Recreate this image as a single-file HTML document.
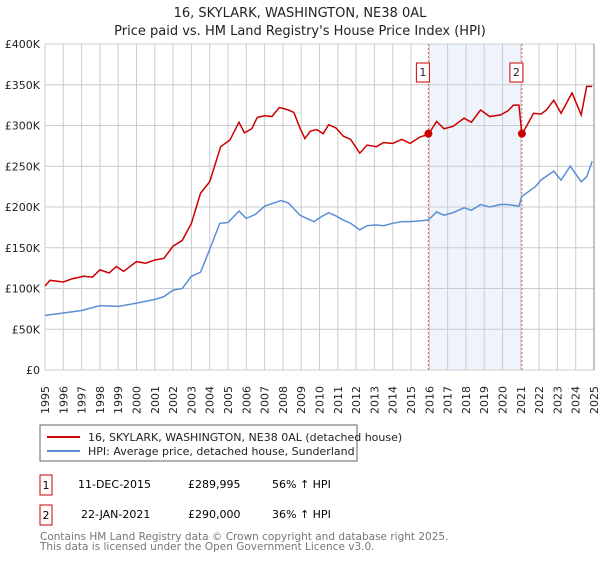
<!DOCTYPE html>
<html><head><meta charset="utf-8"><style>
body{margin:0;background:#fff;font-family:"Liberation Sans","DejaVu Sans",sans-serif;}
svg text{font-family:"DejaVu Sans","Liberation Sans",sans-serif;}
</style></head><body>
<svg id="c" width="600" height="560" xmlns="http://www.w3.org/2000/svg">
<text x="300" y="17" text-anchor="middle" font-size="13" fill="#222">16, SKYLARK, WASHINGTON, NE38 0AL</text>
<text x="300" y="35" text-anchor="middle" font-size="13" fill="#222">Price paid vs. HM Land Registry's House Price Index (HPI)</text>
<g id="plot"></g>
<rect x="40" y="425" width="317" height="36" fill="#fff" stroke="#666"/>
<line x1="47" y1="437" x2="80" y2="437" stroke="#cc0000" stroke-width="2"/>
<text x="88" y="441" font-size="11" fill="#222">16, SKYLARK, WASHINGTON, NE38 0AL (detached house)</text>
<line x1="47" y1="451" x2="80" y2="451" stroke="#5b8fd6" stroke-width="2"/>
<text x="88" y="455" font-size="11" fill="#222">HPI: Average price, detached house, Sunderland</text>
<rect x="40" y="475" width="12" height="20" fill="#fff" stroke="#cc0000"/>
<text x="46" y="489" font-size="11" text-anchor="middle">1</text>
<text x="78" y="488" font-size="11">11-DEC-2015</text>
<text x="188" y="488" font-size="11">£289,995</text>
<text x="272" y="488" font-size="11">56% ↑ HPI</text>
<rect x="40" y="505" width="12" height="20" fill="#fff" stroke="#cc0000"/>
<text x="46" y="519" font-size="11" text-anchor="middle">2</text>
<text x="81" y="518" font-size="11">22-JAN-2021</text>
<text x="188" y="518" font-size="11">£290,000</text>
<text x="272" y="518" font-size="11">36% ↑ HPI</text>
<text x="40" y="540" font-size="10.5" fill="#777">Contains HM Land Registry data © Crown copyright and database right 2025.</text>
<text x="40" y="550" font-size="10.5" fill="#777">This data is licensed under the Open Government Licence v3.0.</text>
</svg>
<script>
const yTicks=[0,50,100,150,200,250,300,350,400];
const yTickLabels=["£0","£50K","£100K","£150K","£200K","£250K","£300K","£350K","£400K"];
const xYears=[1995,1996,1997,1998,1999,2000,2001,2002,2003,2004,2005,2006,2007,2008,2009,2010,2011,2012,2013,2014,2015,2016,2017,2018,2019,2020,2021,2022,2023,2024,2025];
const redDates=[1995.0,1995.27,1996.0,1996.5,1997.1,1997.6,1998.0,1998.5,1998.9,1999.3,1999.7,2000.0,2000.5,2001.0,2001.5,2002.0,2002.5,2003.0,2003.5,2004.0,2004.6,2005.1,2005.6,2005.9,2006.3,2006.6,2007.0,2007.4,2007.8,2008.0,2008.3,2008.6,2008.93,2009.2,2009.5,2009.85,2010.2,2010.5,2010.9,2011.3,2011.7,2012.2,2012.6,2013.1,2013.5,2014.0,2014.5,2014.95,2015.5,2015.95,2016.4,2016.8,2017.3,2017.9,2018.3,2018.8,2019.3,2019.9,2020.3,2020.6,2020.9,2021.06,2021.7,2022.1,2022.4,2022.8,2023.2,2023.8,2024.3,2024.6,2024.9];
const redValues=[103,110,108,112,115,114,123,119,127,121,128,133,131,135,137,152,159,180,217,231,274,282,304,291,296,310,312,311,322,321,319,316,297,284,293,295,290,301,297,287,283,266,276,274,279,278,283,278,286,289,305,296,299,309,304,319,311,313,318,325,325,289,315,314,319,331,315,340,313,348,348];
const hpiDates=[1995.0,1996.0,1997.0,1998.0,1999.0,2000.0,2001.0,2001.5,2002.0,2002.5,2003.0,2003.5,2004.0,2004.55,2005.0,2005.6,2006.0,2006.5,2007.0,2007.9,2008.3,2008.93,2009.3,2009.7,2010.1,2010.5,2010.9,2011.3,2011.7,2012.2,2012.6,2013.1,2013.5,2014.0,2014.5,2014.95,2015.5,2015.95,2016.4,2016.8,2017.3,2017.9,2018.3,2018.8,2019.3,2019.9,2020.3,2020.9,2021.06,2021.8,2022.1,2022.8,2023.2,2023.7,2024.3,2024.6,2024.9];
const hpiValues=[67,70,73,79,78,82,86.5,90,98,100,115,120,148,180,181,195,186,191,201,208,205,190,186,182,188,193,189,184,180,172,177,178,177,180,182,182,183,184,194,190,193,199,196,203,200,203,203,201,213,225,233,244,233,250,231,237,256];
const sales=[2015.95,2021.06];
const saleValues=[289.995,290];

const NS='http://www.w3.org/2000/svg';
const L=45,R=594,T=44,B=370;
const X=y=>L+(y-1995)*(R-L)/30;
const Y=v=>B-v*(B-T)/400;
const g=document.getElementById('plot');
function mk(t,a){const e=document.createElementNS(NS,t);for(const k in a)e.setAttribute(k,a[k]);g.appendChild(e);return e;}
const shade=mk('rect',{x:X(sales[0]),y:T,width:X(sales[1])-X(sales[0]),height:B-T,fill:'#eef3fc'});


xYears.forEach(yr=>{
 const l=mk('line',{x1:X(yr),x2:X(yr),y1:T,y2:B,stroke:'#ccc','stroke-width':1});
 
 
 const t=mk('text',{x:0,y:0,'font-size':11,fill:'#222',transform:`translate(${X(yr)+4},${414}) rotate(-90)`});
 t.textContent=yr;
 
 
});
yTicks.forEach((v,i)=>{
 const l=mk('line',{x1:L,x2:R,y1:Y(v),y2:Y(v),stroke:'#ccc','stroke-width':1});
 
 
 const t=mk('text',{x:40,y:Y(v)+4,'font-size':11,'text-anchor':'end',fill:'#222'});
 t.textContent=yTickLabels[i];
 
 
});
sales.forEach((d,i)=>{
 const l=mk('line',{x1:X(d),x2:X(d),y1:T,y2:B,stroke:'#e06060','stroke-width':1,'stroke-dasharray':'2,2'});
 
 
 const bx=mk('rect',{x:X(d)-12,y:63,width:13,height:19,fill:'#fff',stroke:'#cc0000'});
 
 
 const t=mk('text',{x:X(d)-5.5,y:76,'font-size':11,'text-anchor':'middle',fill:'#222'});
 t.textContent=String(i+1);
 
 
});
const hp=mk('polyline',{points:hpiDates.map((d,i)=>X(d)+','+Y(hpiValues[i])).join(' '),fill:'none',stroke:'#5b8fd6','stroke-width':1.5});


const rp=mk('polyline',{points:redDates.map((d,i)=>X(d)+','+Y(redValues[i])).join(' '),fill:'none',stroke:'#cc0000','stroke-width':1.5});


sales.forEach((d,i)=>{
 const c=mk('circle',{cx:X(d),cy:Y(saleValues[i]),r:4,fill:'#cc0000'});
 
 
});
const ax=mk('line',{x1:R,x2:R,y1:T,y2:B,stroke:'#888','stroke-width':1});


</script>
</body></html>
